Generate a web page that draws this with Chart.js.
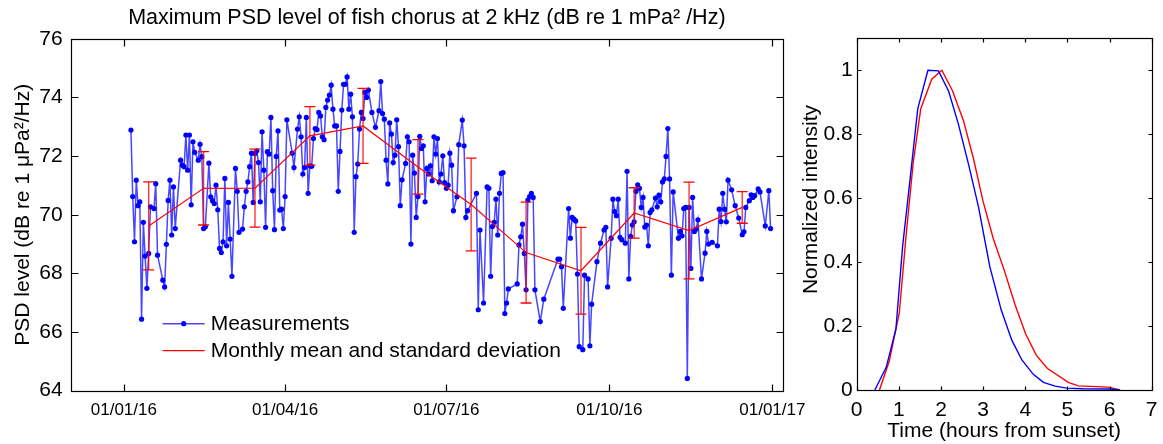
<!DOCTYPE html>
<html>
<head>
<meta charset="utf-8">
<title>Fish chorus PSD</title>
<script src="https://cdn.jsdelivr.net/npm/chart.js@4.4.1/dist/chart.umd.min.js"></script>
<style>
  html, body { margin: 0; padding: 0; background: #fff; }
  body { width: 1163px; height: 444px; position: relative; overflow: hidden; }
  canvas { position: absolute; top: 0; }
  #psdChart { left: 0; }
  #timeChart { left: 790px; }
</style>
</head>
<body>
<canvas id="psdChart" width="840" height="444"></canvas>
<canvas id="timeChart" width="373" height="444"></canvas>
<script>
// Daily measurements, x = days since 01/01/16
var measDays = [4,5,6,7,8,9,10,11,12,13,14,15,17,18,19,22,23,24,25,26,27,28,29,32,33,34,35,36,37,38,39,40,42,43,44,45,46,48,49,50,
  51,52,53,54,55,56,57,58,59,60,61,63,64,65,67,68,69,70,71,72,73,74,75,76,77,78,79,80,81,82,83,84,85,86,87,88,89,90,91,92,
  95,96,98,99,100,101,102,103,104,105,106,107,108,109,110,111,112,113,114,115,116,117,118,119,120,121,122,123,124,125,126,127,128,129,130,131,132,133,134,135,
  136,137,138,140,142,144,145,146,147,148,149,150,151,152,153,154,155,156,157,159,160,161,162,163,164,165,166,167,168,169,170,171,172,173,174,175,176,177,178,179,
  180,181,182,183,184,185,186,188,189,191,192,193,194,199,200,201,203,205,206,207,208,209,210,211,212,213,214,215,216,217,222,223,224,225,226,227,228,229,230,231,
  232,235,237,245,246,247,248,251,252,253,254,255,256,257,259,260,262,263,264,267,269,271,272,273,275,276,277,278,279,280,281,283,284,285,286,287,288,289,290,291,
  292,293,294,295,296,297,298,300,301,302,303,304,305,306,307,308,309,310,313,314,315,316,317,318,319,320,321,322,323,324,326,328,329,330,332,335,336,337,338,339,
  340,341,343,345,347,349,350,351,353,354,355,356,358,359,362,364,365];
var measLevels = [72.89,70.62,69.08,71.18,70.31,70.44,66.44,69.74,68.59,67.49,68.68,70.27,70.21,71.06,68.62,67.77,67.54,68.99,70.49,71.18,69.31,70.95,69.53,71.86,71.69,71.64,72.72,71.52,72.72,70.34,72.49,72.13,71.86,72.40,71.98,69.53,69.59,71.76,70.61,70.48,
  70.38,71.01,70.17,68.85,68.71,69.08,71.24,68.94,70.42,69.17,67.90,71.58,70.80,69.40,69.51,70.27,70.80,71.12,71.64,72.10,70.42,72.09,72.18,71.78,70.44,72.83,71.52,69.57,72.15,72.07,73.32,70.82,69.49,71.99,72.86,70.16,70.19,69.53,70.62,73.24,
  72.10,71.61,72.92,73.34,72.66,71.39,71.61,73.32,70.73,71.67,71.65,72.60,72.94,72.90,73.49,73.37,72.66,72.56,73.66,73.91,74.08,74.42,73.60,73.03,73.03,70.80,72.16,73.57,74.45,74.45,74.70,73.60,74.11,73.34,69.40,71.30,71.73,72.92,73.49,73.28,
  74.17,74.00,74.25,73.49,72.98,73.55,74.54,73.45,73.26,71.86,71.05,73.13,72.75,71.78,72.03,73.24,72.32,70.31,71.19,71.75,72.66,72.49,69.00,72.03,71.42,69.91,70.62,72.67,72.26,72.35,70.44,71.58,71.39,71.67,71.16,72.66,72.07,72.60,71.12,71.39,
  72.01,71.10,70.90,71.01,72.10,71.69,70.14,70.61,72.39,73.23,72.35,69.91,70.14,70.73,66.76,69.48,66.99,70.95,70.90,67.90,69.60,69.74,70.53,69.31,70.73,71.41,71.44,66.63,66.99,67.47,67.64,68.97,69.25,69.68,68.68,67.44,70.50,70.62,70.73,70.59,
  67.44,66.36,67.12,68.49,68.49,68.23,66.81,70.21,69.20,69.91,69.85,69.79,67.98,65.50,65.40,67.94,67.81,65.53,66.95,68.40,69.03,69.48,69.57,67.54,69.20,70.53,70.11,69.97,70.53,69.23,69.15,69.03,71.48,67.81,69.26,69.65,69.76,70.80,71.02,70.90,
  70.25,70.59,69.58,69.65,68.94,70.08,70.17,70.57,70.27,70.67,70.44,71.12,71.22,71.99,72.94,71.22,67.94,70.78,69.20,69.43,69.28,70.21,70.25,64.42,70.25,68.17,70.59,69.43,69.51,69.83,67.81,68.69,69.43,69.00,69.06,68.94,70.19,69.77,70.73,70.19,
  69.76,71.18,70.85,70.31,69.89,69.32,69.42,70.25,70.48,70.68,70.59,70.65,70.88,70.78,69.62,70.82,69.53];

// Monthly mean and standard deviation (placed at mid-month)
var monthDays = [14, 45, 74, 105, 135, 166, 196, 227, 258, 288, 319, 349];
var monthMean = [69.62, 70.90, 70.91, 72.69, 73.03, 71.63, 70.35, 68.71, 68.09, 70.06, 69.46, 70.25];
var monthStd = [1.50, 1.25, 1.33, 1.00, 1.28, 0.93, 1.58, 1.72, 1.48, 0.86, 1.65, 0.54];

var xTickDays = [0, 91, 182, 274, 366];
var xTickLabels = ['01/01/16', '01/04/16', '01/07/16', '01/10/16', '01/01/17'];

// Right panel: normalized chorus intensity vs time after sunset
var blueHours = [0.43, 0.70, 0.93, 1.09, 1.20, 1.45, 1.69, 1.94, 2.18, 2.41, 2.65, 2.89, 3.16, 3.43, 3.68, 3.92, 4.19, 4.43, 4.71, 4.98, 5.38, 6.00, 6.25];
var blueIntensity = [0, 0.071, 0.19, 0.45, 0.58, 0.88, 1.0, 0.998, 0.935, 0.833, 0.708, 0.573, 0.385, 0.25, 0.156, 0.094, 0.049, 0.024, 0.012, 0.006, 0.004, 0.003, 0];
var redHours = [0.54, 0.77, 1.01, 1.17, 1.34, 1.52, 1.78, 2.02, 2.27, 2.53, 2.77, 3.00, 3.24, 3.50, 3.76, 4.01, 4.26, 4.52, 5.02, 5.26, 5.97, 6.25];
var redIntensity = [0, 0.089, 0.24, 0.48, 0.71, 0.88, 0.972, 1.0, 0.937, 0.844, 0.724, 0.589, 0.474, 0.375, 0.266, 0.175, 0.109, 0.068, 0.024, 0.013, 0.009, 0];
var hourTicks = [0, 1, 2, 3, 4, 5, 6, 7];
var intensityTicks = [0, 0.2, 0.4, 0.6, 0.8, 1];

Chart.defaults.font.family = '"Liberation Sans", Arial, sans-serif';
Chart.defaults.font.size = 21;
Chart.defaults.color = '#000';

function toPoints(xs, ys) {
    return xs.map(function (x, i) { return {x: x, y: ys[i]}; });
}

// keep the plot box where it is, labels may hang over the edges
function fixWidth(w) {
    return function (scale) {
        scale.width = w;
        scale.paddingTop = 0;
        scale.paddingBottom = 0;
    };
}
function fixHeight(h) {
    return function (scale) {
        scale.height = h;
        scale.paddingLeft = 0;
        scale.paddingRight = 0;
    };
}

// matlab-like box with ticks pointing inward
var axesBox = {
    id: 'axesBox',
    afterDraw: function (chart, args, opts) {
        var ctx = chart.ctx;
        var a = chart.chartArea;
        var len = opts.tickLength;
        var l = Math.round(a.left) + 0.5, r = Math.round(a.right) + 0.5;
        var t = Math.round(a.top) + 0.5, b = Math.round(a.bottom) + 0.5;
        ctx.save();
        ctx.strokeStyle = '#000';
        ctx.lineWidth = 1.2;
        ctx.strokeRect(l, t, r - l, b - t);
        ctx.beginPath();
        chart.scales.x.ticks.forEach(function (tick) {
            var px = Math.round(chart.scales.x.getPixelForValue(tick.value)) + 0.5;
            ctx.moveTo(px, b); ctx.lineTo(px, b - len);
            ctx.moveTo(px, t); ctx.lineTo(px, t + len);
        });
        chart.scales.y.ticks.forEach(function (tick) {
            var py = Math.round(chart.scales.y.getPixelForValue(tick.value)) + 0.5;
            ctx.moveTo(l, py); ctx.lineTo(l + len, py);
            ctx.moveTo(r, py); ctx.lineTo(r - len, py);
        });
        ctx.stroke();
        ctx.restore();
    }
};

// legend drawn inside the plot, bottom left
var insideLegend = {
    id: 'insideLegend',
    afterDraw: function (chart, args, opts) {
        var ctx = chart.ctx;
        var a = chart.chartArea;
        var items = chart.data.datasets.filter(function (ds) { return ds.label; });
        ctx.save();
        ctx.font = '21px "Liberation Sans", Arial, sans-serif';
        ctx.textBaseline = 'middle';
        items.forEach(function (ds, i) {
            var y = a.bottom - 67 + i * 27;
            var x0 = a.left + 92, x1 = a.left + 134;
            ctx.strokeStyle = ds.borderColor;
            ctx.lineWidth = ds.borderWidth;
            ctx.beginPath();
            ctx.moveTo(x0, y); ctx.lineTo(x1, y);
            ctx.stroke();
            if (ds.pointRadius > 0) {
                ctx.fillStyle = ds.pointBackgroundColor;
                ctx.beginPath();
                ctx.arc((x0 + x1) / 2, y, ds.pointRadius, 0, Math.PI * 2);
                ctx.fill();
            }
            ctx.fillStyle = '#000';
            ctx.fillText(ds.label, a.left + 140, y + 1);
        });
        ctx.restore();
    }
};

var errorBarPoints = [];
monthDays.forEach(function (d, i) {
    errorBarPoints.push({x: d, y: monthMean[i] - monthStd[i]});
    errorBarPoints.push({x: d, y: monthMean[i] + monthStd[i]});
    errorBarPoints.push({x: d, y: null});
});

new Chart(document.getElementById('psdChart'), {
    type: 'line',
    data: {
        datasets: [{
            label: 'Measurements',
            data: toPoints(measDays, measLevels),
            borderColor: 'rgba(0, 0, 255, 0.72)',
            borderWidth: 1.5,
            pointRadius: 2.6,
            pointBackgroundColor: '#0000ff',
            pointBorderWidth: 0,
            order: 2
        }, {
            label: 'Monthly mean and standard deviation',
            data: toPoints(monthDays, monthMean),
            borderColor: '#ff0000',
            borderWidth: 1.2,
            pointRadius: 0,
            order: 1
        }, {
            data: errorBarPoints,
            borderColor: 'rgba(255, 0, 0, 0.8)',
            borderWidth: 1.4,
            pointStyle: 'line',
            pointRadius: 5.5,
            pointBorderColor: '#ff0000',
            pointBorderWidth: 1.3,
            spanGaps: false,
            order: 0
        }]
    },
    options: {
        responsive: false,
        animation: false,
        events: [],
        layout: {padding: {left: 0, right: 57, top: 0, bottom: 0}},
        plugins: {
            legend: {display: false},
            tooltip: {enabled: false},
            title: {
                display: true,
                fullSize: false,
                text: 'Maximum PSD level of fish chorus at 2 kHz (dB re 1 mPa² /Hz)',
                font: {size: 21.5, weight: 'normal'},
                padding: {top: 5, bottom: 8}
            },
            axesBox: {tickLength: 7}
        },
        scales: {
            x: {
                type: 'linear',
                min: -30,
                max: 372,
                grid: {display: false, drawTicks: false},
                border: {display: false},
                afterBuildTicks: function (scale) {
                    scale.ticks = xTickDays.map(function (v) { return {value: v}; });
                },
                ticks: {
                    padding: 9,
                    maxRotation: 0,
                    font: {size: 17},
                    callback: function (value, index) { return xTickLabels[index]; }
                },
                afterFit: fixHeight(53.3)
            },
            y: {
                min: 64,
                max: 76,
                grid: {display: false, drawTicks: false},
                border: {display: false},
                ticks: {stepSize: 2, padding: 8},
                title: {
                    display: true,
                    text: 'PSD level (dB re 1 μPa²/Hz)',
                    padding: {top: 11, bottom: 0}
                },
                afterFit: fixWidth(70.7)
            }
        }
    },
    plugins: [axesBox, insideLegend]
});

new Chart(document.getElementById('timeChart'), {
    type: 'line',
    data: {
        datasets: [{
            data: toPoints(blueHours, blueIntensity),
            borderColor: '#0000ff',
            borderWidth: 1.4,
            pointRadius: 0
        }, {
            data: toPoints(redHours, redIntensity),
            borderColor: '#ff0000',
            borderWidth: 1.4,
            pointRadius: 0
        }]
    },
    options: {
        responsive: false,
        animation: false,
        events: [],
        layout: {padding: {left: 0, right: 11.3, top: 38.3, bottom: 0}},
        plugins: {
            legend: {display: false},
            tooltip: {enabled: false},
            axesBox: {tickLength: 4}
        },
        scales: {
            x: {
                type: 'linear',
                min: 0,
                max: 7,
                grid: {display: false, drawTicks: false},
                border: {display: false},
                afterBuildTicks: function (scale) {
                    scale.ticks = hourTicks.map(function (v) { return {value: v}; });
                },
                ticks: {padding: 8, maxRotation: 0},
                title: {
                    display: true,
                    text: 'Time (hours from sunset)',
                    padding: {top: 0, bottom: 0}
                },
                afterFit: fixHeight(54)
            },
            y: {
                min: 0,
                max: 1.1,
                grid: {display: false, drawTicks: false},
                border: {display: false},
                afterBuildTicks: function (scale) {
                    scale.ticks = intensityTicks.map(function (v) { return {value: v}; });
                },
                ticks: {
                    padding: 4,
                    callback: function (value) { return String(+value.toFixed(1)); }
                },
                title: {
                    display: true,
                    text: '     Normalized intensity',
                    padding: {top: 9, bottom: 0}
                },
                afterFit: fixWidth(66.7)
            }
        }
    },
    plugins: [axesBox]
});
</script>
</body>
</html>
